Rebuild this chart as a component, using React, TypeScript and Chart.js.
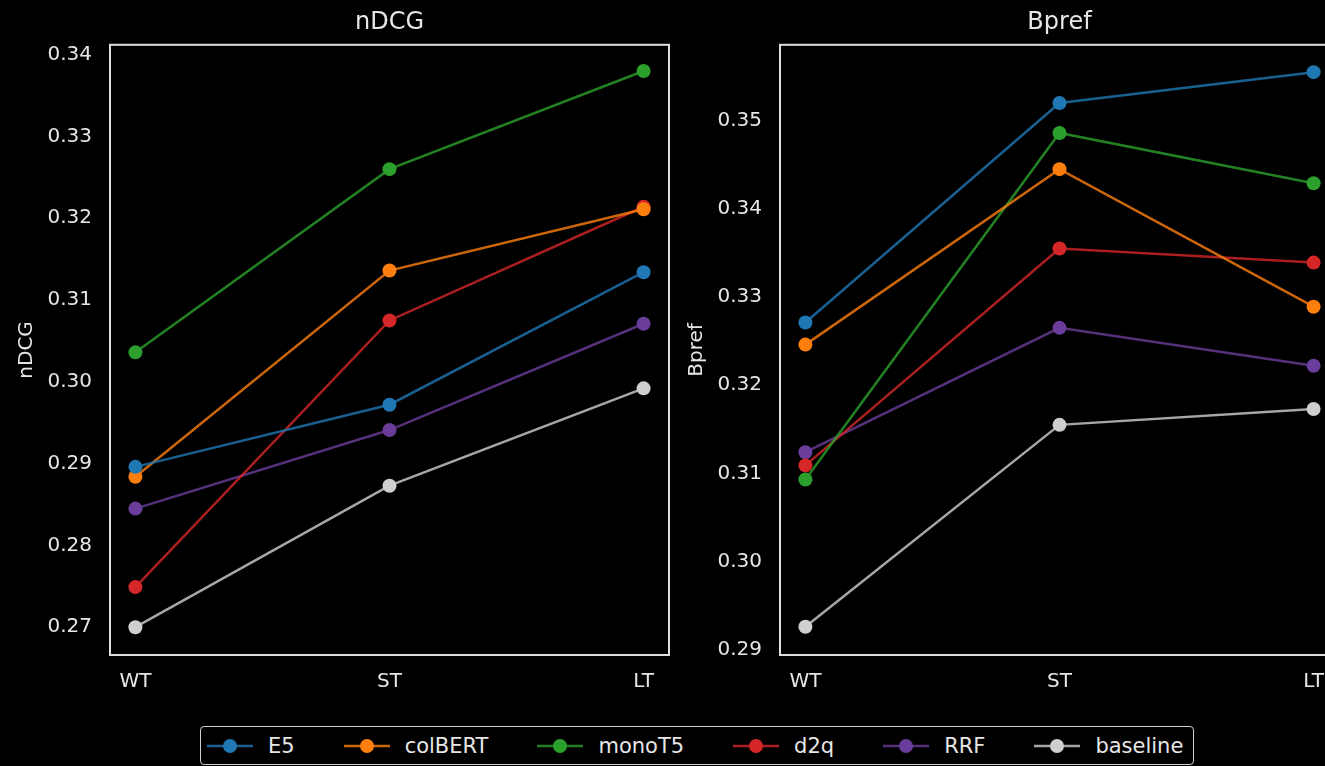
import React, { useEffect, useRef } from "react";
import { Chart, registerables } from "chart.js";

Chart.register(...registerables);

// ---------- data ----------
const categories = ["WT", "ST", "LT"];
const seriesNames = ["E5", "colBERT", "monoT5", "d2q", "RRF", "baseline"];
const seriesColors = ["#1f77b4", "#ff7f0e", "#2ca02c", "#d62728", "#6a3d9a", "#cfcfcf"];

const ndcgE5 = [0.2896, 0.2972, 0.3134];
const ndcgColBERT = [0.2884, 0.3136, 0.3211];
const ndcgMonoT5 = [0.3036, 0.326, 0.338];
const ndcgD2q = [0.2749, 0.3075, 0.3214];
const ndcgRRF = [0.2845, 0.2941, 0.3071];
const ndcgBaseline = [0.27, 0.2873, 0.2992];

const bprefE5 = [0.3271, 0.352, 0.3555];
const bprefColBERT = [0.3246, 0.3445, 0.3289];
const bprefMonoT5 = [0.3093, 0.3486, 0.3429];
const bprefD2q = [0.3109, 0.3355, 0.3339];
const bprefRRF = [0.3124, 0.3265, 0.3222];
const bprefBaseline = [0.2926, 0.3155, 0.3173];

const ndcgTicks = [0.27, 0.28, 0.29, 0.3, 0.31, 0.32, 0.33, 0.34];
const bprefTicks = [0.29, 0.3, 0.31, 0.32, 0.33, 0.34, 0.35];

const ndcgRange = [0.2666, 0.3412];
const bprefRange = [0.2894, 0.3586];

const ndcgSeries = [ndcgE5, ndcgColBERT, ndcgMonoT5, ndcgD2q, ndcgRRF, ndcgBaseline];
const bprefSeries = [bprefE5, bprefColBERT, bprefMonoT5, bprefD2q, bprefRRF, bprefBaseline];

// ---------- styling ----------
const FONT = "'DejaVu Sans', sans-serif";
const TEXT = "#e6e6e6";
const SPINE = "#dedede";

function withAlpha(hex: string, a: number) {
  const n = parseInt(hex.slice(1), 16);
  return `rgba(${(n >> 16) & 255},${(n >> 8) & 255},${n & 255},${a})`;
}

const framePlugin = {
  id: "frame",
  afterDatasetsDraw(chart: any) {
    const { ctx, chartArea: a } = chart;
    ctx.save();
    ctx.strokeStyle = SPINE;
    ctx.lineWidth = 2;
    ctx.strokeRect(a.left, a.top, a.right - a.left, a.bottom - a.top);
    ctx.restore();
  },
};

function makeChart(
  canvas: HTMLCanvasElement,
  title: string,
  series: number[][],
  ticks: number[],
  range: number[]
) {
  return new Chart(canvas, {
    type: "line",
    data: {
      datasets: series.map((vals, i) => ({
        label: seriesNames[i],
        data: vals.map((v, j) => ({ x: j, y: v })),
        borderColor: withAlpha(seriesColors[i], 0.8),
        backgroundColor: seriesColors[i],
        pointBackgroundColor: seriesColors[i],
        pointBorderColor: seriesColors[i],
        pointRadius: 7,
        pointBorderWidth: 0,
        pointHoverRadius: 7,
        borderWidth: 2.5,
        tension: 0,
      })),
    },
    options: {
      animation: false,
      responsive: false,
      maintainAspectRatio: false,
      layout: { padding: { left: 0, right: 11, top: 0, bottom: 0 } },
      plugins: {
        legend: { display: false },
        tooltip: { enabled: false },
        title: {
          display: true,
          fullSize: false,
          text: title,
          color: TEXT,
          font: { family: FONT, size: 24, weight: "normal" },
          padding: { top: 8, bottom: 8 },
        },
      },
      scales: {
        x: {
          type: "linear",
          min: -0.1,
          max: 2.1,
          grid: { display: false, drawTicks: false },
          border: { display: false },
          afterBuildTicks: (s: any) => {
            s.ticks = categories.map((_, i) => ({ value: i }));
          },
          afterFit: (s: any) => {
            s.height = 55;
          },
          ticks: {
            color: TEXT,
            font: { family: FONT, size: 20 },
            padding: 15,
            maxRotation: 0,
            autoSkip: false,
            callback: (v: any) => categories[v] ?? "",
          },
        },
        y: {
          type: "linear",
          min: range[0],
          max: range[1],
          grid: { display: false, drawTicks: false },
          border: { display: false },
          afterBuildTicks: (s: any) => {
            s.ticks = ticks.map((v) => ({ value: v }));
          },
          afterFit: (s: any) => {
            s.width = 110;
          },
          title: {
            display: true,
            text: title,
            color: TEXT,
            font: { family: FONT, size: 20 },
            padding: { top: 15, bottom: 0 },
          },
          ticks: {
            color: TEXT,
            font: { family: FONT, size: 20 },
            padding: 18,
            autoSkip: false,
            callback: (v: any) => Number(v).toFixed(2),
          },
        },
      },
    },
    plugins: [framePlugin],
  } as any);
}

function Panel(props: { left: number; title: string; series: number[][]; ticks: number[]; range: number[] }) {
  const ref = useRef<HTMLCanvasElement | null>(null);
  useEffect(() => {
    if (!ref.current) return;
    const c = makeChart(ref.current, props.title, props.series, props.ticks, props.range);
    return () => c.destroy();
  }, []);
  return (
    <canvas
      ref={ref}
      width={680}
      height={710}
      style={{ position: "absolute", left: props.left, top: 0, width: 680, height: 710 }}
    />
  );
}

function LegendHandle({ color }: { color: string }) {
  return (
    <svg width={46} height={20} style={{ display: "block" }}>
      <line x1={0} y1={10} x2={46} y2={10} stroke={withAlpha(color, 0.8)} strokeWidth={2.5} />
      <circle cx={23} cy={10} r={7} fill={color} />
    </svg>
  );
}

export default function App() {
  return (
    <div
      style={{
        position: "fixed",
        left: 0,
        top: 0,
        width: 1325,
        height: 766,
        overflow: "hidden",
        background: "#000",
      }}
    >
      <Panel left={0} title="nDCG" series={ndcgSeries} ticks={ndcgTicks} range={ndcgRange} />
      <Panel left={670} title="Bpref" series={bprefSeries} ticks={bprefTicks} range={bprefRange} />
      <div
        style={{
          position: "absolute",
          left: 200,
          top: 726,
          height: 39,
          boxSizing: "border-box",
          border: "1.5px solid #cfcfcf",
          borderRadius: 4,
          display: "flex",
          alignItems: "center",
          paddingLeft: 6,
          paddingRight: 10,
          columnGap: 49,
          fontFamily: FONT,
          fontSize: 21,
          color: TEXT,
          whiteSpace: "nowrap",
        }}
      >
        {seriesNames.map((name, i) => (
          <div key={name} style={{ display: "flex", alignItems: "center", columnGap: 15 }}>
            <LegendHandle color={seriesColors[i]} />
            <span>{name}</span>
          </div>
        ))}
      </div>
    </div>
  );
}
